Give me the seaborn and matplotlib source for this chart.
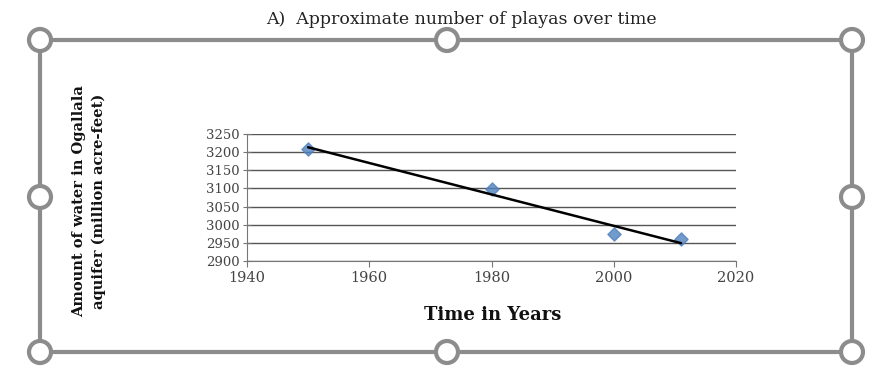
import numpy as np
import pandas as pd
import matplotlib.pyplot as plt
from matplotlib.patches import Rectangle, Circle
import seaborn as sns

years = [1950, 1980, 2000, 2011]
water = [3210, 3098, 2975, 2960]
y_ticks = [2900, 2950, 3000, 3050, 3100, 3150, 3200, 3250]
x_ticks = [1940, 1960, 1980, 2000, 2020]

df = pd.DataFrame({"year": years, "water": water})

sns.set_style("white")
plt.rcParams["font.family"] = ["DejaVu Serif", "Liberation Serif"]

fig = plt.figure(figsize=(8.79, 3.7), dpi=100)

# frame with selection handles, drawn in pixel units
overlay = fig.add_axes([0, 0, 1, 1])
overlay.set_xlim(0, 879)
overlay.set_ylim(370, 0)
overlay.axis("off")
grey = "#8c8c8c"
overlay.add_patch(Rectangle((40, 40), 812, 312, fill=False, ec=grey, lw=3))
for cx, cy in [(40, 40), (447, 40), (852, 40), (40, 197), (852, 197),
               (40, 352), (447, 352), (852, 352)]:
    overlay.add_patch(Circle((cx, cy), 11, fc="white", ec=grey, lw=3, zorder=3))

overlay.text(461, 19, "A)  Approximate number of playas over time",
             ha="center", va="center", fontsize=12.5, color="#222222")
overlay.text(89, 201, "Amount of water in Ogallala\naquifer (million acre-feet)",
             rotation=90, ha="center", va="center", fontsize=10.5,
             fontweight="bold", linespacing=1.55, color="#111111")
overlay.text(493, 315, "Time in Years", ha="center", va="center",
             fontsize=13, fontweight="bold", color="#111111")

ax = fig.add_axes([247 / 879, 1 - 261 / 370, (736 - 247) / 879, (261 - 134) / 370])
ax.patch.set_alpha(0)
sns.regplot(data=df, x="year", y="water", ax=ax, ci=None, marker="D",
            scatter_kws={"s": 45, "color": "#4f81bd", "zorder": 3},
            line_kws={"color": "black", "lw": 1.8, "zorder": 4})

ax.set_xlim(1940, 2020)
ax.set_ylim(2900, 3250)
ax.set_xticks(x_ticks)
ax.set_yticks(y_ticks)
ax.set_xlabel("")
ax.set_ylabel("")
ax.grid(axis="y", color="#555555", lw=1)
ax.set_axisbelow(True)
for s in ["top", "right"]:
    ax.spines[s].set_visible(False)
ax.spines["left"].set_color("#777777")
ax.spines["bottom"].set_color("#777777")
ax.tick_params(axis="both", labelcolor="#444444", color="#777777",
               length=4, left=True, bottom=True, pad=2)
ax.tick_params(axis="y", direction="inout", length=6, labelsize=9.5)
ax.tick_params(axis="x", labelsize=10.5, pad=3)

fig.savefig("out.png", dpi=100)
